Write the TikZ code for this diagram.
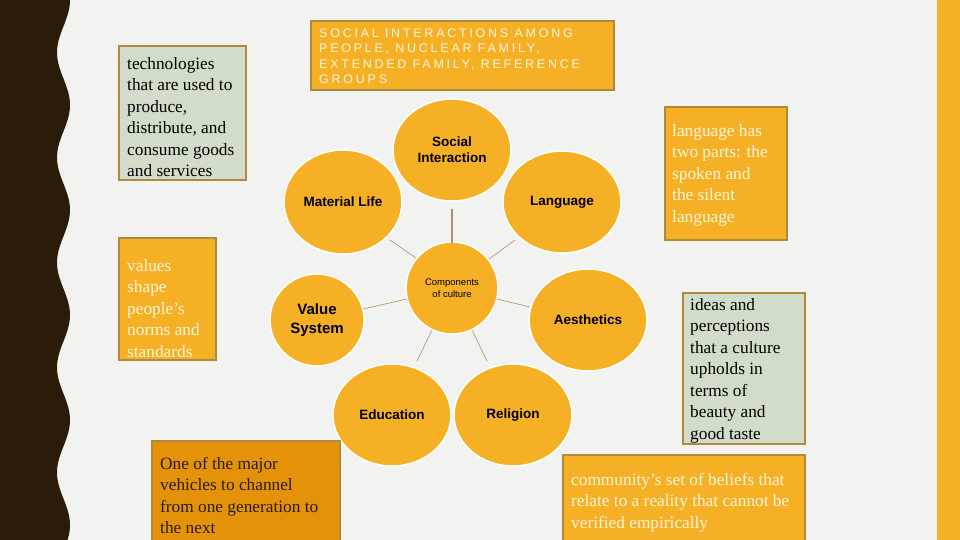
\documentclass[tikz,border=0pt]{standalone}
\usepackage{fontspec}
\setmainfont{Liberation Serif}
\setsansfont{Liberation Sans}
\begin{document}
\begin{tikzpicture}[x=1pt,y=-1pt,
  comp/.style={ellipse,fill=gold,draw=white,line width=1.5pt,font=\sffamily\bfseries\fontsize{13.5}{16}\selectfont,align=center,inner sep=0pt,text=black},
  link/.style={draw=linec,line width=0.6pt},
  note/.style={draw=boxb,line width=1.2pt,anchor=north west,inner sep=0pt,outer sep=0pt},
  ntext/.style={anchor=north west,inner sep=0pt,align=left,font=\fontsize{17.3}{21.5}\selectfont},
]
\definecolor{bgc}{HTML}{F2F2F0}
\definecolor{gold}{HTML}{F6B025}
\definecolor{boxb}{HTML}{B08A3A}
\definecolor{sage}{HTML}{D2DCCA}
\definecolor{dorange}{HTML}{E3920A}
\definecolor{dark}{HTML}{2A1C08}
\definecolor{linec}{HTML}{B09060}
\definecolor{ltext}{HTML}{FFF6DC}
\usetikzlibrary{shapes.geometric}
\useasboundingbox (0,0) rectangle (960,540);
\fill[bgc] (0,0) rectangle (960,540);
\fill[dark] (0,0) -- plot[domain=0:540,samples=120,smooth] ({63.5+6.5*cos(\x/105*360)},\x) -- (0,540) -- cycle;
\fill[gold] (937,0) rectangle (960,540);

% circles
\node[comp,minimum width=118,minimum height=102] (soc) at (452,150) {Social\\Interaction};
\node[comp,minimum width=118,minimum height=104] (mat) at (343,202) {Material Life};
\node[comp,minimum width=118,minimum height=102] (lang) at (562,202) {Language};
\node[comp,minimum width=92,minimum height=92,font=\sffamily\fontsize{9.5}{12}\selectfont] (cen) at (452,288) {Components\\of culture};
\node[comp,minimum width=94,minimum height=92,font=\sffamily\fontsize{15}{19}\selectfont\bfseries] (val) at (317,320) {Value\\System};
\node[comp,minimum width=118,minimum height=102] (aes) at (588,320) {Aesthetics};
\node[comp,minimum width=118,minimum height=102] (edu) at (392,415) {Education};
\node[comp,minimum width=118,minimum height=102] (rel) at (513,415) {Religion};

\coordinate (s1) at (452,209); \coordinate (s2) at (452,243);
\draw[link,line width=1.8pt] (s1) -- (s2);
\coordinate (m1) at (390,240); \coordinate (m2) at (416,258);
\draw[link] (m1) -- (m2);
\coordinate (l1) at (515,240); \coordinate (l2) at (489,259);
\draw[link] (l1) -- (l2);
\coordinate (v1) at (363,309); \coordinate (v2) at (407,299);
\draw[link] (v1) -- (v2);
\coordinate (a1) at (497,299); \coordinate (a2) at (530,307);
\draw[link] (a1) -- (a2);
\coordinate (e1) at (432,330); \coordinate (e2) at (417,361);
\draw[link] (e1) -- (e2);
\coordinate (r1) at (472,330); \coordinate (r2) at (487,361);
\draw[link] (r1) -- (r2);

% boxes
\node[note,fill=gold,minimum width=303,minimum height=69] (top) at (311,21) {};
\node[anchor=north west,inner sep=0pt,align=left,text=ltext,font=\sffamily\fontsize{12.5}{15.3}\selectfont\addfontfeature{LetterSpace=22}] (toptext) at (319,28.5) {SOCIAL INTERACTIONS AMONG\\PEOPLE, NUCLEAR FAMILY,\\EXTENDED FAMILY, REFERENCE\\GROUPS};

\node[note,fill=sage,minimum width=127,minimum height=134] (tech) at (119,46) {};
\node[ntext] (techt) at (127,57) {technologies\\that are used to\\produce,\\distribute, and\\consume goods\\and services};

\node[note,fill=gold,minimum width=97,minimum height=122] (vals) at (119,238) {};
\node[ntext,text=ltext] (valst) at (127,259) {values\\shape\\people’s\\norms and\\standards};

\node[note,fill=dorange,minimum width=188,minimum height=105] (maj) at (152,441) {};
\node[ntext,text=dark] (majt) at (160,457) {One of the major\\vehicles to channel\\from one generation to\\the next};

\node[note,fill=gold,minimum width=122,minimum height=133] (langb) at (665,107) {};
\node[ntext,text=ltext] (langt) at (672,124) {language has\\two parts: the\\spoken and\\the silent\\language};

\node[note,fill=sage,minimum width=122,minimum height=151] (idea) at (683,293) {};
\node[ntext] (ideat) at (690,298) {ideas and\\perceptions\\that a culture\\upholds in\\terms of\\beauty and\\good taste};

\node[note,fill=gold,minimum width=242,minimum height=100] (comm) at (563,455) {};
\node[ntext,text=ltext] (commt) at (571,473) {community’s set of beliefs that\\relate to a reality that cannot be\\verified empirically};
\end{tikzpicture}
\end{document}
